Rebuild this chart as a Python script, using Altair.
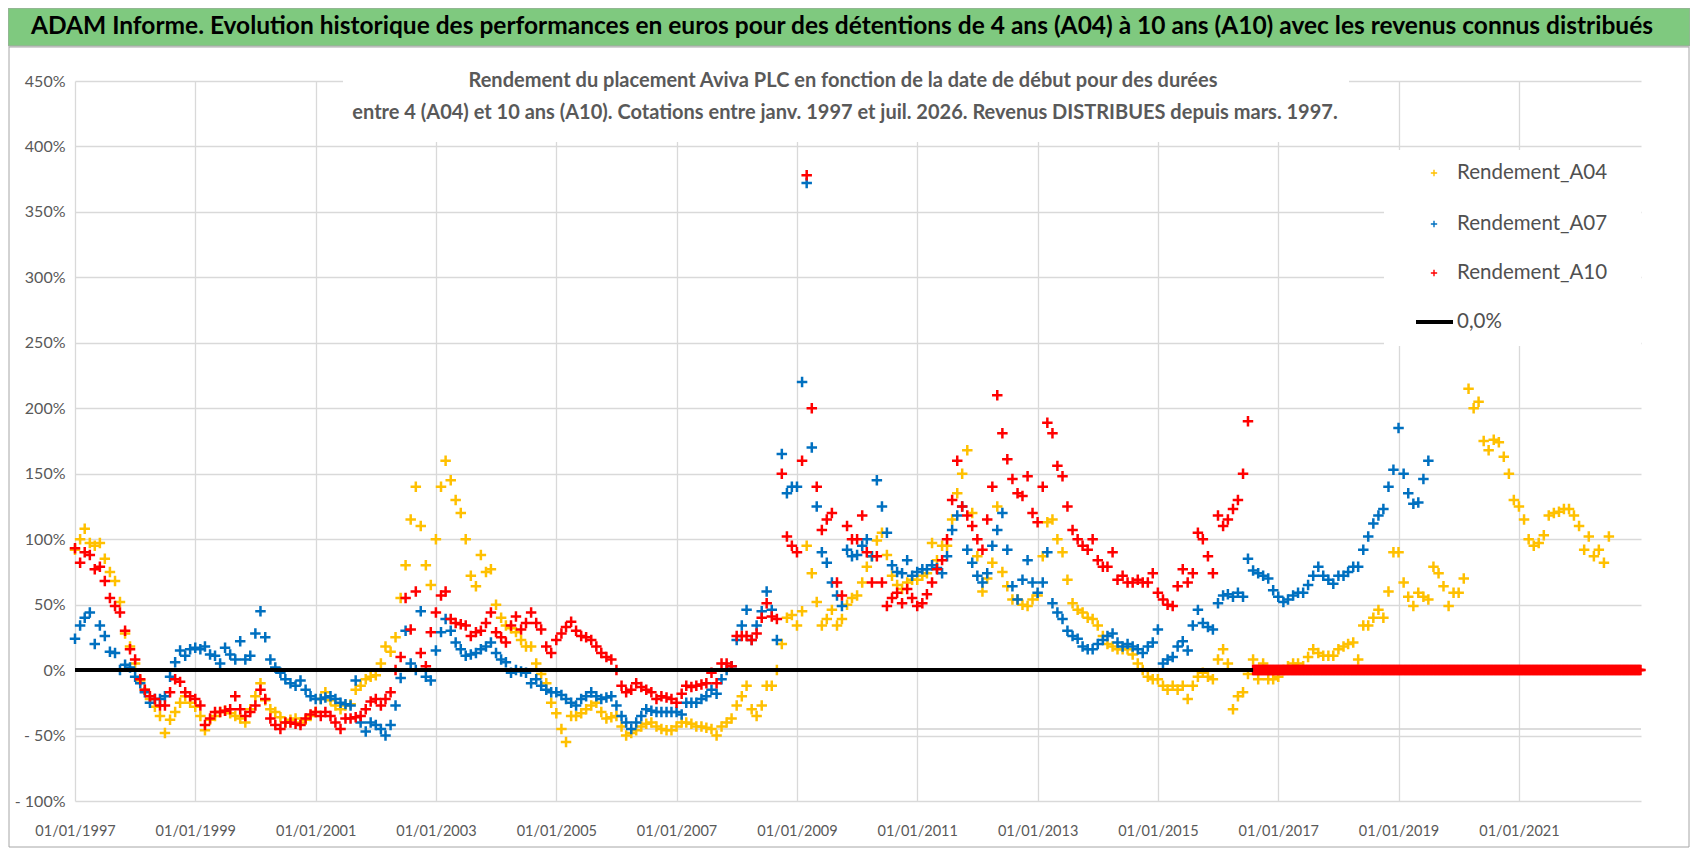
import altair as alt
import pandas as pd

FONT = "Lato, Liberation Sans, sans-serif"
GREY_TXT = "#595959"
PLUS = "M-1,0L1,0M0,-1L0,1"

# monthly returns in %, first value = January 1997
a04_values = [
    92, 100, 108, 97, 95, 97, 85, 75, 68, 52, 28, 18,
    5, -8, -15, -22, -28, -35, -48, -38, -32, -25, -20, -25,
    -28, -35, -46, -38, -35, -32, -31, -33, -35, -37, -40, -30,
    -20, -10, -23, -30, -32, -36, -40, -38, -37, -40, -38, -35,
    -32, -22, -17, -23, -27, -30, -27, -26, -15, -12, -7, -5,
    -4, 5, 18, 14, 25, 55, 80, 115, 140, 110, 80, 65,
    100, 140, 160, 145, 130, 120, 100, 72, 64, 88, 75, 77,
    50, 40, 34, 32, 29, 23, 18, 18, 5, -3, -10, -25,
    -33, -45, -55, -35, -35, -33, -30, -27, -25, -32, -37, -36,
    -35, -43, -50, -48, -46, -43, -41, -40, -43, -45, -46, -46,
    -43, -40, -40, -41, -43, -43, -44, -45, -50, -43, -40, -37,
    -27, -20, -12, -30, -35, -27, -12, -12, 0, 20, 40, 42,
    34, 45, 95, 74, 52, 34, 39, 46, 34, 39, 50, 55,
    57, 67, 79, 87, 99, 105, 88, 72, 65, 62, 67, 69,
    69, 72, 74, 97, 84, 95, 95, 115, 135, 150, 168, 120,
    87, 60, 70, 82, 125, 75, 64, 54, 54, 50, 49, 54,
    57, 87, 113, 115, 100, 90, 69, 51, 46, 44, 40, 39,
    34, 26, 20, 18, 16, 16, 16, 12, 5, 0, -5, -7,
    -7, -12, -15, -12, -15, -12, -22, -12, -5, -2, -5, -7,
    8, 16, 5, -30, -20, -17, -3, 8, -7, 5, -7, -7,
    -5, 0, 3, 5, 5, 3, 10, 16, 13, 11, 11, 11,
    16, 18, 20, 21, 8, 34, 34, 40, 46, 40, 60, 90,
    90, 67, 56, 49, 59, 56, 54, 79, 74, 64, 49, 59,
    59, 70, 215, 200, 205, 175, 168, 176, 174, 163, 150, 130,
    125, 115, 100, 95, 97, 103, 118, 120, 121, 123, 123, 118,
    110, 92, 102, 87, 92, 82, 102,
]
a07_values = [
    24, 34, 40, 44, 20, 34, 26, 14, 13, 0, 4, 2,
    -5, -10, -17, -25, -22, -22, -20, -5, 6, 15, 11, 16,
    17, 16, 18, 12, 11, 5, 17, 12, 8, 22, 8, 11,
    28, 45, 25, 8, 2, -2, -7, -10, -12, -8, -15, -20,
    -22, -22, -21, -20, -22, -25, -26, -27, -8, -40, -47, -40,
    -42, -45, -50, -42, -27, -6, 30, 5, 0, 45, -5, -8,
    15, 29, 39, 30, 21, 16, 11, 12, 13, 16, 18, 21,
    13, 8, 6, -2, 0, -1, -2, -10, -7, -12, -15, -17,
    -17, -19, -22, -25, -27, -22, -20, -17, -20, -22, -21, -20,
    -27, -35, -40, -45, -40, -35, -30, -31, -32, -32, -32, -32,
    -32, -34, -25, -25, -25, -22, -20, -15, -18, -7, 0, 3,
    23, 34, 46, 23, 34, 45, 60, 46, 23, 165, 135, 140,
    140, 220, 372, 170, 125, 90, 82, 67, 57, 49, 92, 87,
    88, 95, 100, 87, 145, 125, 105, 80, 75, 74, 84, 72,
    75, 77, 77, 80, 78, 74, 87, 107, 118, 125, 92, 82,
    72, 67, 74, 95, 107, 120, 92, 64, 54, 69, 84, 67,
    59, 67, 90, 51, 44, 39, 30, 26, 24, 18, 16, 16,
    20, 23, 26, 28, 21, 18, 20, 18, 16, 13, 18, 21,
    31, 5, 8, 10, 18, 22, 15, 34, 46, 36, 33, 31,
    51, 57, 58, 56, 59, 56, 85, 76, 74, 72, 70, 61,
    56, 52, 54, 57, 59, 59, 65, 72, 79, 72, 69, 66,
    72, 72, 75, 79, 79, 92, 102, 112, 118, 123, 140, 153,
    185, 150, 135, 127, 128, 146, 160,
]
a10_values = [
    93, 82, 90, 88, 77, 79, 68, 55, 49, 44, 30, 16,
    8, -7, -15, -20, -22, -27, -27, -17, -7, -9, -17, -20,
    -22, -27, -42, -37, -32, -32, -31, -30, -20, -30, -35, -32,
    -27, -15, -22, -37, -42, -45, -40, -40, -41, -42, -37, -34,
    -32, -35, -32, -35, -40, -45, -37, -37, -36, -35, -30, -24,
    -22, -27, -22, -17, 0, 10, 55, 31, 60, 13, 3, 29,
    44, 57, 60, 39, 36, 35, 34, 26, 29, 30, 36, 44,
    29, 25, 21, 34, 41, 31, 36, 44, 36, 31, 18, 13,
    23, 28, 33, 37, 30, 26, 25, 23, 18, 13, 10, 8,
    0, -12, -17, -15, -10, -13, -15, -17, -22, -20, -21, -22,
    -25, -18, -12, -13, -12, -11, -10, -2, -10, 5, 5, 3,
    26, 26, 26, 23, 28, 40, 51, 41, 39, 150, 102, 95,
    90, 160, 378, 200, 140, 107, 115, 120, 67, 57, 110, 100,
    100, 118, 90, 67, 87, 67, 49, 55, 59, 51, 62, 55,
    49, 51, 58, 67, 77, 84, 100, 130, 160, 125, 118, 110,
    100, 92, 115, 140, 210, 181, 161, 146, 135, 133, 148, 120,
    113, 140, 189, 181, 156, 148, 125, 107, 100, 95, 92, 100,
    84, 79, 79, 90, 69, 72, 67, 67, 69, 67, 67, 74,
    59, 54, 50, 49, 64, 77, 67, 74, 105, 100, 87, 74,
    118, 110, 115, 123, 130, 150, 190,
]
# A10 has no 10-year return after mid-2016: plotted as 0
a10_zero_start = "2016-08-01"
a10_zero_end = "2023-01-14"

series_names = ["Rendement_A04", "Rendement_A07", "Rendement_A10"]
series_colors = ["#ffc000", "#0070c0", "#ff0000"]
zero_label = "0,0%"
y_ticks = list(range(-100, 451, 50))
x_tick_years = list(range(1997, 2022, 2))
extra_rule = [-45]

title_text = ("ADAM Informe. Evolution historique des performances en euros pour des détentions "
              "de 4 ans (A04) à 10 ans (A10) avec les revenus connus distribués")
subtitle_1 = "Rendement du placement Aviva PLC en fonction de la date de début pour des durées"
subtitle_2 = ("entre 4 (A04) et 10 ans (A10). Cotations entre janv. 1997 et juil. 2026. "
              "Revenus DISTRIBUES depuis mars. 1997.")


def monthly(values, name):
    dates = pd.date_range("1997-01-01", periods=len(values), freq="MS")
    return pd.DataFrame({"date": dates.strftime("%Y-%m-%d"), "value": values, "series": name})


zero_dates = pd.date_range(a10_zero_start, a10_zero_end, freq="7D")
zeros = pd.DataFrame({"date": zero_dates.strftime("%Y-%m-%d"), "value": 0, "series": series_names[2]})

df = pd.concat([
    monthly(a04_values, series_names[0]),
    monthly(a07_values, series_names[1]),
    monthly(a10_values, series_names[2]),
    zeros,
], ignore_index=True)


def utc_day(y, m=1, d=1):
    return alt.DateTime(year=y, month=m, date=d, utc=True)


x_enc = alt.X(
    "date:T",
    title=None,
    scale=alt.Scale(type="utc", domain=[utc_day(1997), utc_day(2023, 1, 12)]),
    axis=alt.Axis(values=[utc_day(y) for y in x_tick_years], labelExpr="utcFormat(datum.value, '%d/%m/%Y')",
                  labelFlush=False, labelPadding=23, labelFontSize=14.5, labelColor=GREY_TXT,
                  labelFont=FONT, domain=False, ticks=False, gridColor="#d9d9d9", gridWidth=1.3),
)
y_enc = alt.Y(
    "value:Q",
    title=None,
    scale=alt.Scale(domain=[-100, 450], nice=False, zero=False),
    axis=alt.Axis(values=y_ticks, labelExpr="datum.value < 0 ? '- ' + abs(datum.value) + '%' : datum.value + '%'",
                  labelPadding=10, labelFontSize=16, labelColor=GREY_TXT, labelFont=FONT,
                  domain=False, ticks=False, gridColor="#d9d9d9", gridWidth=1.3),
)


def one_row():
    return pd.DataFrame({"k": [0]})


def box(x1, x2, y1, y2, fill="white", stroke=None):
    kw = {"fill": fill}
    if stroke:
        kw.update(stroke=stroke, strokeWidth=1)
    return alt.Chart(one_row()).mark_rect(**kw).encode(
        x=alt.value(x1), x2=alt.value(x2), y=alt.value(y1), y2=alt.value(y2))


def label(text, x, y, size, color=GREY_TXT, weight="normal", align="center"):
    return alt.Chart(pd.DataFrame({"t": [text]})).mark_text(
        font=FONT, fontSize=size, fontWeight=weight, color=color, align=align, baseline="middle"
    ).encode(text="t:N", x=alt.value(x), y=alt.value(y))


# --- decorations: frame, title bar, boxes that hide the grid ---
frame = alt.Chart(one_row()).mark_rect(fillOpacity=0, stroke="#a6a6a6", strokeWidth=1).encode(
    x=alt.value(-66), x2=alt.value(1614), y=alt.value(-34), y2=alt.value(766))
title_bar = box(-67, 1615, -73, -35, fill="#7fc97f", stroke="#a6a6a6")
title = label(title_text, 767, -54, 24.5, color="black", weight="bold")
subtitle_box = box(268, 1274, -8, 61)
sub1 = label(subtitle_1, 768, 0, 20, weight="bold")
sub2 = label(subtitle_2, 770, 32, 20, weight="bold")
legend_box = box(1309, 1566, 69, 265)

minus45 = alt.Chart(pd.DataFrame({"y": extra_rule})).mark_rule(color="#d0d0d0", strokeWidth=1.3).encode(
    y=alt.Y("y:Q", scale=alt.Scale(domain=[-100, 450], nice=False)))

# --- the three return series ---
points = alt.Chart(df).mark_point(shape=PLUS, filled=False, size=110, strokeWidth=2.5, opacity=1).encode(
    x=x_enc, y=y_enc,
    color=alt.Color("series:N", scale=alt.Scale(domain=series_names, range=series_colors), legend=None),
)

zero_line = alt.Chart(pd.DataFrame({"start": ["1997-01-01"], "end": [a10_zero_start], "y": [0]})).mark_rule(
    color="black", strokeWidth=4).encode(x="start:T", x2="end:T", y="y:Q")

# --- hand made legend ---
legend_rows = [92, 143, 192, 241]
legend_layers = []
for name, color, ly in zip(series_names, series_colors, legend_rows):
    legend_layers.append(alt.Chart(one_row()).mark_point(
        shape=PLUS, filled=False, size=40, strokeWidth=1.4, color=color, opacity=1
    ).encode(x=alt.value(1359), y=alt.value(ly)))
    legend_layers.append(label(name, 1382, ly, 20.5, color="#505050", align="left"))
legend_layers.append(alt.Chart(one_row()).mark_rule(color="black", strokeWidth=4).encode(
    x=alt.value(1341), x2=alt.value(1378), y=alt.value(legend_rows[3])))
legend_layers.append(label(zero_label, 1382, legend_rows[3], 20.5, color="#505050", align="left"))

chart = alt.layer(
    frame, title_bar, title, minus45, subtitle_box, legend_box, sub1, sub2,
    points, zero_line, *legend_layers
).properties(
    width=1566, height=720,
    padding={"left": 67, "top": 73, "right": 49, "bottom": 47},
    autosize=alt.AutoSizeParams(type="none"),
    background="white",
).configure_view(stroke=None)

chart.save("out.html", embed_options={"renderer": "svg", "actions": False})
